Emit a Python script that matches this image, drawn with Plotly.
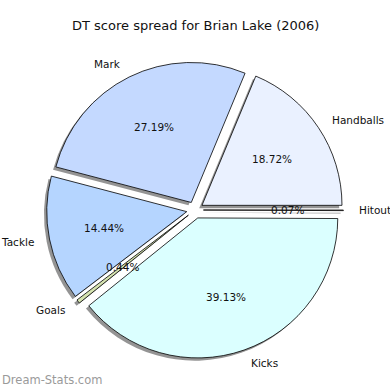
import math
import plotly.graph_objects as go

# ---- data ----
categories = ["Handballs", "Mark", "Tackle", "Goals", "Kicks", "Hitout"]
shares = [18.72, 27.19, 14.44, 0.44, 39.13, 0.07]
colors = ["#eaf1ff", "#c4d9ff", "#b5d5ff", "#d5e3b0", "#dbffff", "#f2e6e6"]
title_text = "DT score spread for Brian Lake (2006)"
watermark = "Dream-Stats.com"

# ---- layout geometry (pixels) ----
W = H = 390
R = 140.0          # pie radius
PULL = 0.06        # explode fraction
CX, CY = 195.0, 210.0   # pie centre (px from left/top)
SH = 2.8           # shadow offset
half = R * (1 + PULL)

total = sum(shares)
# plotly (counterclockwise) puts the first slice clockwise of `rotation`;
# we want the first slice to start at 3 o'clock and go counterclockwise
rot = 90 - shares[0] / total * 360


def dom(cx, cy):
    return dict(x=[(cx - half) / W, (cx + half) / W],
                y=[1 - (cy + half) / H, 1 - (cy - half) / H])


font = "DejaVu Sans"
fig = go.Figure()

# shadow
fig.add_trace(go.Pie(
    labels=categories, values=shares, sort=False, direction="counterclockwise",
    rotation=rot, pull=[PULL] * len(shares), textinfo="none", hoverinfo="skip",
    marker=dict(colors=["rgba(0,0,0,0.42)"] * len(shares), line=dict(width=0)),
    domain=dom(CX - SH, CY + SH), showlegend=False,
))
# pie
fig.add_trace(go.Pie(
    labels=categories, values=shares, sort=False, direction="counterclockwise",
    rotation=rot, pull=[PULL] * len(shares), textinfo="none",
    marker=dict(colors=colors, line=dict(color="black", width=0.8)),
    domain=dom(CX, CY), showlegend=False,
))

# labels and percentages placed like matplotlib
ann = []
cum = 0.0
for cat, v in zip(categories, shares):
    mid = math.radians((cum + v / 2) / total * 360)
    cum += v
    c, s = math.cos(mid), math.sin(mid)
    lx = CX + (1.1 + PULL) * R * c
    ly = CY - (1.1 + PULL) * R * s
    ann.append(dict(x=lx / W, y=1 - ly / H, xref="paper", yref="paper",
                    text=cat, showarrow=False,
                    xanchor="left" if c > 0 else "right", yanchor="middle",
                    font=dict(family=font, size=10.5, color="#111")))
    px = CX + (0.6 + PULL) * R * c
    py = CY - (0.6 + PULL) * R * s
    ann.append(dict(x=px / W, y=1 - py / H, xref="paper", yref="paper",
                    text=f"{v / total * 100:.2f}%", showarrow=False,
                    xanchor="center", yanchor="middle",
                    font=dict(family=font, size=10.5, color="#111")))

ann.append(dict(x=195 / W, y=1 - 26 / H, xref="paper", yref="paper",
                text=title_text, showarrow=False, xanchor="center", yanchor="middle",
                font=dict(family=font, size=13, color="#111")))
ann.append(dict(x=0, y=1 - 380 / H, xref="paper", yref="paper",
                text=watermark, showarrow=False, xanchor="left", yanchor="middle",
                font=dict(family=font, size=11.5, color="#9a9a9a")))

fig.update_layout(width=W, height=H, margin=dict(l=0, r=0, t=0, b=0),
                  paper_bgcolor="white", plot_bgcolor="white",
                  annotations=ann, showlegend=False)
fig.write_html("out.html", config={"displayModeBar": False},
               post_script="document.body.style.margin='0';document.body.style.overflow='hidden';")
